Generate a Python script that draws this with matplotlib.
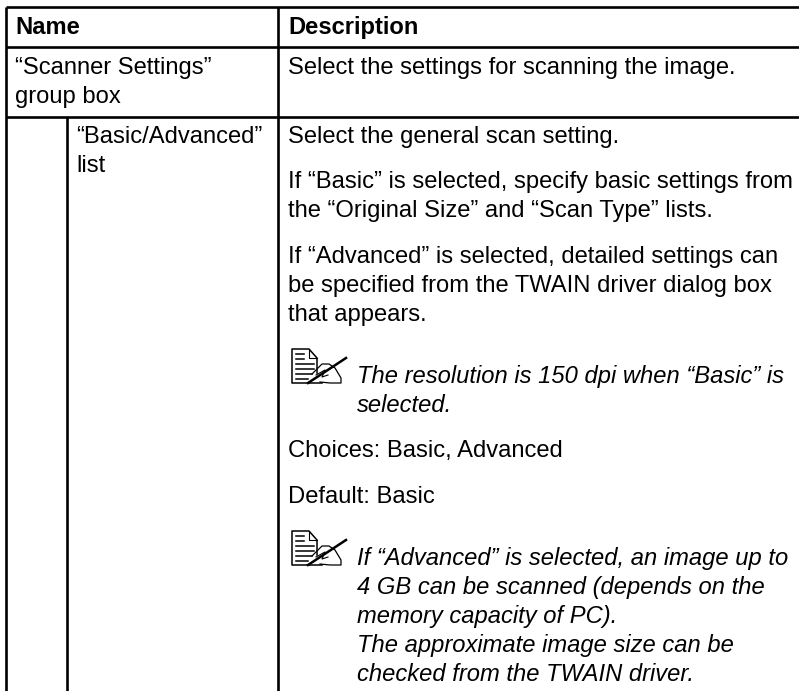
import matplotlib
matplotlib.use("Agg")
import matplotlib.pyplot as plt

plt.rcParams["font.family"] = ["Liberation Sans", "DejaVu Sans"]

W, H = 799, 691
FONT = 17.15

# table rules
h_rules = [(7, 6, 799), (47, 6, 799), (117, 6, 799)]
v_rules = [(6, 7, 691), (67, 117, 691), (278, 7, 691)]

# (x, baseline, text)
header_cells = [(15, 34, "Name"), (288, 34, "Description")]
plain_cells = [
    (15, 74, "“Scanner Settings”"),
    (15, 103, "group box"),
    (288, 74, "Select the settings for scanning the image."),
    (76, 143, "“Basic/Advanced”"),
    (76, 172, "list"),
    (288, 143, "Select the general scan setting."),
    (288, 188, "If “Basic” is selected, specify basic settings from"),
    (288, 217, "the “Original Size” and “Scan Type” lists."),
    (288, 263, "If “Advanced” is selected, detailed settings can"),
    (288, 292, "be specified from the TWAIN driver dialog box"),
    (288, 321, "that appears."),
    (288, 457, "Choices: Basic, Advanced"),
    (288, 503, "Default: Basic"),
]
italic_cells = [
    (357, 383, "The resolution is 150 dpi when “Basic” is"),
    (357, 412, "selected."),
    (357, 565, "If “Advanced” is selected, an image up to"),
    (357, 594, "4 GB can be scanned (depends on the"),
    (357, 623, "memory capacity of PC)."),
    (357, 652, "The approximate image size can be"),
    (357, 681, "checked from the TWAIN driver."),
]
note_tops = [349, 531]


def note_icon(ax, x, y):
    # page outline with folded corner
    ax.plot([x + 25, x + 25, x + 17, x, x, x + 30],
            [y + 24, y + 9, y, y, y + 34, y + 34], color="black", lw=1.1)
    ax.plot([x + 17, x + 17, x + 25], [y, y + 9, y + 9], color="black", lw=0.8)
    for dy, end in [(5, 12), (10, 12), (15, 22), (20, 22), (25, 20), (30, 16)]:
        ax.plot([x + 4, x + end], [y + dy, y + dy], color="black", lw=1.1)
    # hand
    ax.plot([x + 20, x + 30, x + 37, x + 43, x + 49, x + 49, x + 38, x + 28],
            [y + 25, y + 15, y + 15, y + 19, y + 29, y + 34, y + 34, y + 33],
            color="black", lw=0.9)
    ax.plot([x + 24, x + 33, x + 30, x + 36], [y + 26, y + 21, y + 28, y + 26], color="black", lw=0.8)
    # pen
    ax.plot([x + 16, x + 54], [y + 34, y + 9], color="black", lw=1.8)


fig = plt.figure(figsize=(W / 100, H / 100), dpi=100)
ax = fig.add_axes([0, 0, 1, 1])
ax.set_xlim(0, W)
ax.set_ylim(H, 0)
ax.axis("off")

for y, x0, x1 in h_rules:
    ax.plot([x0, x1], [y, y], color="black", lw=1.9, solid_capstyle="butt")
for x, y0, y1 in v_rules:
    ax.plot([x, x], [y0, y1], color="black", lw=1.9, solid_capstyle="butt")

for x, y, s in header_cells:
    ax.text(x, y, s, fontsize=FONT, fontweight="bold", va="baseline")
for x, y, s in plain_cells:
    ax.text(x, y, s, fontsize=FONT, va="baseline")
for x, y, s in italic_cells:
    ax.text(x, y, s, fontsize=FONT, fontstyle="italic", va="baseline")
for y in note_tops:
    note_icon(ax, 292, y)

fig.savefig("out.png", dpi=100)
